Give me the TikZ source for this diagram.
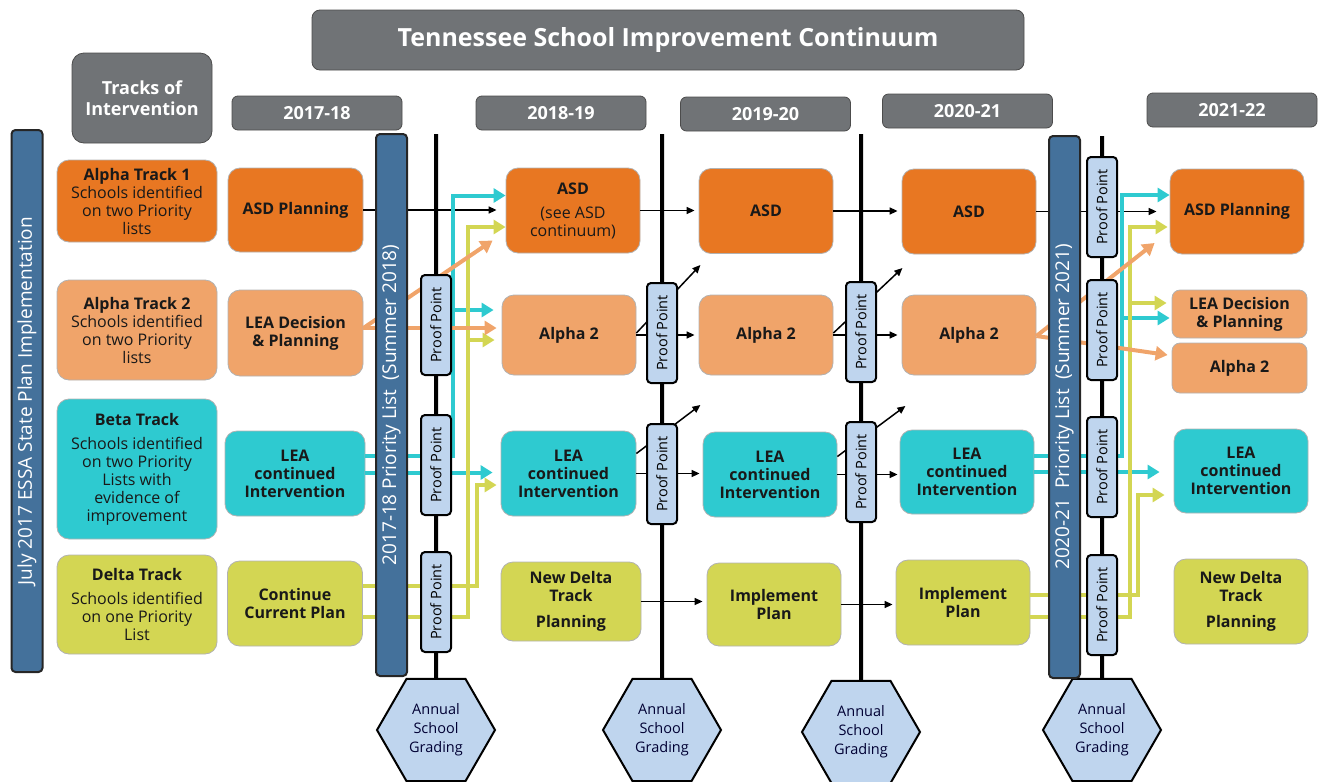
\documentclass[tikz,border=0pt]{standalone}
\usepackage{fontspec}
\setmainfont{Open Sans}
\usetikzlibrary{arrows.meta,shapes.geometric}

\definecolor{hdrgray}{HTML}{707376}
\definecolor{barblue}{HTML}{44719B}
\definecolor{ppblue}{HTML}{BFD5EE}
\definecolor{asdorange}{HTML}{E87722}
\definecolor{peach}{HTML}{F0A46A}
\definecolor{betacyan}{HTML}{2ECAD0}
\definecolor{deltalime}{HTML}{D3D653}

\begin{document}
\begin{tikzpicture}
  [x=1pt, y=-1pt,
    hdr/.style={fill=hdrgray, draw=black!70, line width=0.8pt, rounded corners=6pt, text=white, align=center,
      font=\bfseries\fontsize{18}{21}\selectfont},
    yearbox/.style={hdr, minimum width=170, minimum height=34},
    box/.style={draw=black!30, line width=0.8pt, rounded corners=12pt, align=center, text=black!90, inner sep=1pt,
      font=\bfseries\fontsize{16}{18}\selectfont},
    trackbox/.style={box, minimum width=160, font=\fontsize{16}{18}\selectfont},
    colbox/.style={box, minimum width=135, minimum height=85},
    bar/.style={fill=barblue, draw=black!85, line width=2pt, rounded corners=4pt, rotate=90, minimum width=542,
      minimum height=31, inner sep=0pt, text=white, font=\fontsize{19}{21}\selectfont},
    proof/.style={fill=ppblue, draw=black, line width=2pt, rounded corners=4pt, rotate=90, minimum width=100,
      minimum height=30, inner sep=0pt, font=\fontsize{14.5}{16}\selectfont},
    grading/.style={regular polygon, regular polygon sides=6, minimum size=118, fill=ppblue, draw=black,
      line width=2pt, inner sep=0pt, align=center, text=black!80!blue, font=\fontsize{14.5}{19}\selectfont},
    vline/.style={line width=4pt},
    blk/.style={line width=1.5pt, -{Triangle[length=8pt,width=7pt]}},
    fat/.style={line width=4pt, -{Triangle[length=12pt,width=14pt]}},
    peachline/.style={fat, draw=peach},
    betaline/.style={fat, draw=betacyan},
    deltaline/.style={fat, draw=deltalime},
]
\useasboundingbox (0,0) rectangle (1318,782);

% headers
\node[hdr, minimum width=712, minimum height=60, rounded corners=8pt,
  font=\bfseries\fontsize{25}{28}\selectfont] (title) at (668,40) {Tennessee School Improvement Continuum};
\node[hdr, minimum width=140, minimum height=90, rounded corners=12pt] (tracks) at (142,98) {Tracks of\\Intervention};
\node[yearbox] (yr1) at (317,113) {2017-18};
\node[yearbox] (yr2) at (561,113) {2018-19};
\node[yearbox] (yr3) at (765.5,114) {2019-20};
\node[yearbox] (yr4) at (967.5,111) {2020-21};
\node[yearbox] (yr5) at (1232,110) {2021-22};

% tracks
\node[trackbox, fill=asdorange, minimum height=82] (alpha1) at (137,201)
  {\textbf{Alpha Track 1}\\Schools identified\\on two Priority\\lists};
\node[trackbox, fill=peach, minimum height=100] (alpha2) at (137,330)
  {\textbf{Alpha Track 2}\\Schools identified\\on two Priority\\lists};
\node[trackbox, fill=betacyan, minimum height=140] (beta) at (137,469)
  {\textbf{Beta Track}\\[6pt]Schools identified\\on two Priority\\Lists with\\evidence of\\improvement};
\node[trackbox, fill=deltalime, minimum height=99] (delta) at (137,604.5)
  {\textbf{Delta Track}\\[6pt]Schools identified\\on one Priority\\List};

% 2017-18
\node[colbox, fill=asdorange, minimum height=84] (asdplan1) at (295.5,210) {ASD Planning};
\node[colbox, fill=peach, minimum height=86] (leadec1) at (295.5,333) {LEA Decision\\\& Planning};
\node[colbox, fill=betacyan, minimum width=140] (lea1) at (295,473.5) {LEA\\continued\\Intervention};
\node[colbox, fill=deltalime] (cont1) at (295,603.5) {Continue\\Current Plan};

% 2018-19
\node[colbox, fill=asdorange, minimum width=134] (asd2) at (573,210.5)
  {ASD\\[6pt]{\mdseries (see ASD}\\{\mdseries continuum)}};
\node[colbox, fill=peach, minimum width=134, minimum height=80] (alpha2a) at (569,335) {Alpha 2};
\node[colbox, fill=betacyan] (lea2) at (568.5,473.5) {LEA\\continued\\Intervention};
\node[colbox, fill=deltalime, minimum width=140, minimum height=79] (newdelta1) at (571,601.5)
  {New Delta\\Track\\[8pt]Planning};

% 2019-20
\node[colbox, fill=asdorange, minimum width=134] (asd3) at (766,211) {ASD};
\node[colbox, fill=peach, minimum width=134, minimum height=80] (alpha2b) at (766,335) {Alpha 2};
\node[colbox, fill=betacyan, minimum width=134] (lea3) at (770,474.5) {LEA\\continued\\Intervention};
\node[colbox, fill=deltalime, minimum width=134, minimum height=83] (impl1) at (774,604.5) {Implement\\Plan};

% 2020-21
\node[colbox, fill=asdorange, minimum width=134] (asd4) at (969,211.5) {ASD};
\node[colbox, fill=peach, minimum width=134, minimum height=80] (alpha2c) at (969,335) {Alpha 2};
\node[colbox, fill=betacyan, minimum width=134, minimum height=84] (lea4) at (967,472) {LEA\\continued\\Intervention};
\node[colbox, fill=deltalime, minimum width=134] (impl2) at (963,602.5) {Implement\\Plan};

% 2021-22
\node[colbox, fill=asdorange, minimum width=134] (asdplan2) at (1237,211.5) {ASD Planning};
\node[colbox, fill=peach, minimum height=48, rounded corners=8pt] (leadec2) at (1239.5,314) {LEA Decision\\\& Planning};
\node[colbox, fill=peach, minimum height=50, rounded corners=8pt] (alpha2d) at (1239.5,368) {Alpha 2};
\node[colbox, fill=betacyan, minimum width=134, minimum height=84] (lea5) at (1241,471) {LEA\\continued\\Intervention};
\node[colbox, fill=deltalime, minimum width=134] (newdelta2) at (1241,601.5) {New Delta\\Track\\[8pt]Planning};

% grading
\node[grading] (hex1) at (436,730) {Annual\\School\\Grading};
\node[grading] (hex2) at (662,730) {Annual\\School\\Grading};
\node[grading] (hex3) at (861,732) {Annual\\School\\Grading};
\node[grading] (hex4) at (1102,730) {Annual\\School\\Grading};

% year to year
\draw[blk, shorten >=9pt] (asdplan1.east) -- (asdplan1.east -| asd2.west);
\draw[blk, shorten >=4pt] (asd2.east) -- (asd2.east -| asd3.west);
\draw[blk, shorten >=4pt] (asd3.east) -- (asd3.east -| asd4.west);
\draw[blk, shorten >=13pt] (asd4.east) -- (asd4.east -| asdplan2.west);
\draw[blk, shorten >=4pt] (alpha2a.east) -- (alpha2a.east -| alpha2b.west);
\draw[blk, shorten >=4pt] (alpha2b.east) -- (alpha2b.east -| alpha2c.west);
\draw[blk, shorten >=3pt] (lea2.east) -- (lea2.east -| lea3.west);
\draw[blk, shorten >=2pt] (lea3.east) -- (lea3.east -| lea4.west);
\draw[blk, shorten >=4pt] (newdelta1.east) -- (newdelta1.east -| impl1.west);
\draw[blk, shorten >=3pt] (impl1.east) -- (impl1.east -| impl2.west);

\coordinate (up1) at ([shift={(64,-70)}]alpha2a.east);
\coordinate (up2) at ([shift={(64,-68.5)}]lea2.east);
\coordinate (up3) at ([shift={(69,-67)}]alpha2b.east);
\coordinate (up4) at ([shift={(68,-68.5)}]lea3.east);
\draw[blk] ([yshift=2pt]alpha2a.east) -- (up1);
\draw[blk] ([yshift=20pt]lea2.east) -- (up2);
\draw[blk] ([yshift=2pt]alpha2b.east) -- (up3);
\draw[blk] ([yshift=18pt]lea3.east) -- (up4);

% 2017-18 priority list moves
\coordinate (c1) at ([yshift=18pt]lea1.east);
\coordinate (cx1) at ([xshift=88pt]c1);
\coordinate (ca1) at ([yshift=15pt]asd2.west);
\coordinate (cb1) at ([yshift=25pt]alpha2a.west);
\coordinate (c2) at ([yshift=1pt]lea1.east);
\draw[betaline] (c1) -- (cx1) |- (ca1);
\draw[betaline, shorten >=8pt] (cx1 |- cb1) -- (cb1);
\draw[betaline, shorten >=8pt] (c2) -- (c2 -| lea2.west);

\coordinate (d1) at ([yshift=17.5pt]cont1.east);
\coordinate (dx1) at ([xshift=114pt]d1);
\coordinate (da1) at ([yshift=-11.5pt]lea2.west);
\coordinate (d2) at ([yshift=-13.5pt]cont1.east);
\coordinate (dx2) at ([xshift=105pt]d2);
\coordinate (da2) at ([yshift=-16.5pt]asd2.west);
\coordinate (db2) at ([yshift=-5pt]alpha2a.west);
\draw[deltaline, shorten >=4pt] (d1) -- (dx1) |- (da1);
\draw[deltaline] (d2) -- (dx2) |- (da2);
\draw[deltaline, shorten >=7pt] (dx2 |- db2) -- (db2);

\coordinate (p1) at ([yshift=5pt]leadec1.east);
\draw[peachline] (p1) -- ([shift={(-13,30)}]asd2.west);
\draw[peachline, shorten >=5pt] (p1) -- (p1 -| alpha2a.west);

% 2020-21 priority list moves
\coordinate (c3) at ([yshift=16pt]lea4.east);
\coordinate (cx3) at ([xshift=88pt]c3);
\coordinate (ca3) at ([yshift=16.5pt]asdplan2.west);
\coordinate (cb3) at ([yshift=-4pt]leadec2.west);
\coordinate (c4) at (lea4.east);
\draw[betaline] (c3) -- (cx3) |- (ca3);
\draw[betaline, shorten >=2pt] (cx3 |- cb3) -- (cb3);
\draw[betaline, shorten >=14pt] (c4) -- (c4 -| lea5.west);

\coordinate (d3) at ([yshift=7.5pt]impl2.east);
\coordinate (dx3) at ([xshift=108pt]d3);
\coordinate (da3) at ([yshift=-24pt]lea5.west);
\coordinate (d4) at ([yshift=-14.5pt]impl2.east);
\coordinate (dx4) at ([xshift=100pt]d4);
\coordinate (da4) at ([yshift=-15.5pt]asdplan2.west);
\coordinate (db4) at ([yshift=11pt]leadec2.west);
\draw[deltaline, shorten >=9pt] (d3) -- (dx3) |- (da3);
\draw[deltaline, shorten >=2pt] (d4) -- (dx4) |- (da4);
\draw[deltaline, shorten >=5pt] (dx4 |- db4) -- (db4);

\coordinate (p3) at ([yshift=-1pt]alpha2c.east);
\draw[peachline] (p3) -- ([shift={(-15,31.5)}]asdplan2.west);
\draw[peachline] (p3) -- ([shift={(-4,-13)}]alpha2d.west);

% grading lines
\coordinate (top1) at (436,134);
\coordinate (top2) at (662,134);
\coordinate (top3) at (861,134);
\coordinate (top4) at (1102,136);
\draw[vline] (top1) -- (hex1.north);
\draw[vline] (top2) -- (hex2.north);
\draw[vline] (top3) -- (hex3.north);
\draw[vline] (top4) -- (hex4.north);

% bars
\node[bar] (plan) at (27,401) {July 2017 ESSA State Plan Implementation};
\node[bar] (prio1) at (391.5,405) {2017-18 Priority List\enspace(Summer 2018)};
\node[bar] (prio2) at (1064.5,407) {2020-21\enspace Priority List\enspace(Summer 2021)};

% proof points
\node[proof] (pp1a) at (436,325) {Proof Point};
\node[proof] (pp1b) at (436,465) {Proof Point};
\node[proof] (pp1c) at (436,602) {Proof Point};
\node[proof] (pp2a) at (662,333) {Proof Point};
\node[proof] (pp2b) at (662,474) {Proof Point};
\node[proof] (pp3a) at (861,332) {Proof Point};
\node[proof] (pp3b) at (861,472) {Proof Point};
\node[proof] (pp4a) at (1102,207) {Proof Point};
\node[proof] (pp4b) at (1102,330) {Proof Point};
\node[proof] (pp4c) at (1102,467) {Proof Point};
\node[proof] (pp4d) at (1102,605) {Proof Point};
\end{tikzpicture}
\end{document}
